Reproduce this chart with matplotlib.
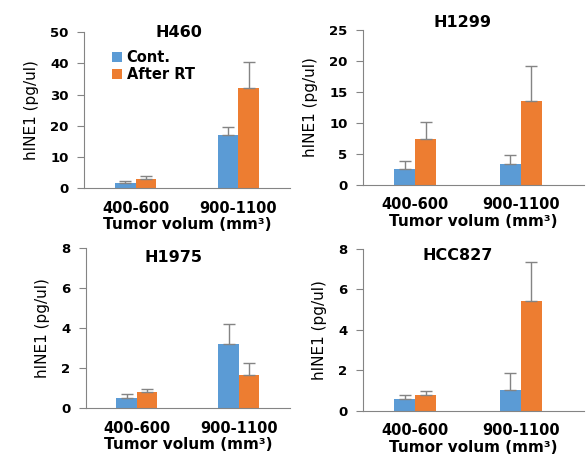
import matplotlib
matplotlib.use("Agg")
import matplotlib.pyplot as plt
import numpy as np

# tumor volume groups
groups = ['400-600', '900-1100']

# values (mean, upper error)
h460_cont = [1.7, 16.9]
h460_cont_err = [0.5, 2.6]
h460_rt = [3.1, 32.0]
h460_rt_err = [0.9, 8.4]

h1299_cont = [2.5, 3.4]
h1299_cont_err = [1.4, 1.4]
h1299_rt = [7.4, 13.5]
h1299_rt_err = [2.7, 5.6]

h1975_cont = [0.52, 3.18]
h1975_cont_err = [0.2, 1.04]
h1975_rt = [0.79, 1.67]
h1975_rt_err = [0.15, 0.59]

hcc827_cont = [0.59, 1.02]
hcc827_cont_err = [0.18, 0.84]
hcc827_rt = [0.81, 5.43]
hcc827_rt_err = [0.16, 1.9]

blue = '#5b9bd5'
orange = '#ed7d31'
gray = '#848484'

fig = plt.figure(figsize=(5.88, 4.67), dpi=100)

panels = [
    # title, cont, cont_err, rt, rt_err, ymax, ystep, rect, title pos, xmax
    ('H460', h460_cont, h460_cont_err, h460_rt, h460_rt_err, 50, 10,
     [0.143, 0.597, 0.350, 0.334], (0.46, 1.0), 1.5),
    ('H1299', h1299_cont, h1299_cont_err, h1299_rt, h1299_rt_err, 25, 5,
     [0.617, 0.604, 0.376, 0.332], (0.45, 1.045), 1.6),
    ('H1975', h1975_cont, h1975_cont_err, h1975_rt, h1975_rt_err, 8, 2,
     [0.146, 0.126, 0.347, 0.343], (0.43, 0.94), 1.5),
    ('HCC827', hcc827_cont, hcc827_cont_err, hcc827_rt, hcc827_rt_err, 8, 2,
     [0.617, 0.120, 0.376, 0.347], (0.43, 0.96), 1.6),
]

x = np.arange(len(groups))
w = 0.2

for i, (name, cont, cerr, rt, rerr, ymax, ystep, rect, tpos, xmax) in enumerate(panels):
    ax = fig.add_axes(rect)
    ax.bar(x - w / 2, cont, w, color=blue, label='Cont.',
           yerr=[[0] * len(cerr), cerr], ecolor=gray,
           error_kw=dict(elinewidth=1, capsize=4, capthick=1))
    ax.bar(x + w / 2, rt, w, color=orange, label='After RT',
           yerr=[[0] * len(rerr), rerr], ecolor=gray,
           error_kw=dict(elinewidth=1, capsize=4, capthick=1))
    ax.set_xlim(-0.5, xmax)
    ax.set_ylim(0, ymax)
    ax.set_yticks(np.arange(0, ymax + 0.1, ystep))
    ax.set_xticks(x)
    ax.set_xticklabels(groups, fontsize=10.5, fontweight='bold')
    ax.tick_params(axis='x', length=0, pad=9)
    ax.tick_params(axis='y', length=5, color=gray, labelsize=9.5, pad=6)
    for lab in ax.get_yticklabels():
        lab.set_fontweight('bold')
    for s in ['top', 'right']:
        ax.spines[s].set_visible(False)
    for s in ['left', 'bottom']:
        ax.spines[s].set_color(gray)
    ax.set_ylabel('hINE1 (pg/ul)', fontsize=11, labelpad=8)
    ax.set_xlabel('Tumor volum (mm³)', fontsize=11, fontweight='bold', labelpad=1)
    ax.text(tpos[0], tpos[1], name, transform=ax.transAxes, ha='center', va='center',
            fontsize=11.5, fontweight='bold')
    if i == 0:
        ax.legend(loc='upper left', bbox_to_anchor=(0.1, 0.93), frameon=False,
                  handlelength=0.7, handleheight=0.7, handletextpad=0.3,
                  labelspacing=0.1, borderpad=0,
                  prop=dict(size=10.5, weight='bold'))

fig.savefig('out.png', dpi=100)
